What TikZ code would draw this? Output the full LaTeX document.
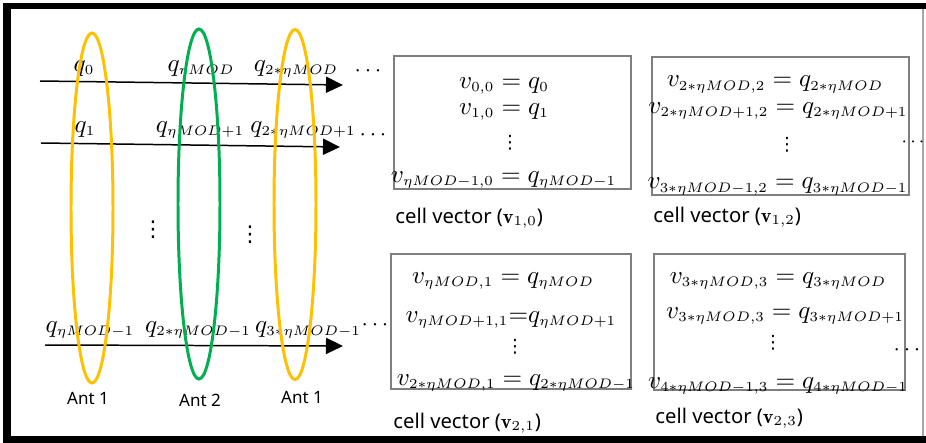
\documentclass[tikz,border=0pt]{standalone}
\usepackage{fontspec}
\newfontfamily\labfont{Noto Sans}
\newfontfamily\symfont{DejaVu Sans}
\usetikzlibrary{arrows.meta,shapes.geometric}
\DeclareMathSizes{10.95}{10.95}{6}{5}
\definecolor{antyellow}{HTML}{FFC000}
\definecolor{antgreen}{HTML}{00B050}
\definecolor{boxgray}{HTML}{7F7F7F}
\definecolor{edgegray}{HTML}{A6A6A6}
\begin{document}
\begin{tikzpicture}[x=0.43478pt,y=-0.43478pt,
  mathlab/.style={font=\fontsize{10.95}{13}\selectfont, inner sep=0pt, anchor=base},
  dotlab/.style={font=\normalsize, inner sep=0pt, anchor=base},
  vdotlab/.style={font=\symfont\fontsize{#1}{#1}\selectfont, inner sep=0pt, anchor=center},
  antlab/.style={font=\labfont\fontsize{7.4}{9}\selectfont, inner sep=0pt, anchor=center},
  celllab/.style={font=\labfont\fontsize{8.8}{10}\selectfont, inner sep=0pt, anchor=west},
  antring/.style={ellipse, draw=#1, line width=1.3pt, minimum width=18.26pt, minimum height=152.17pt, inner sep=0pt},
  cellbox/.style={draw=boxgray, line width=0.52pt, inner sep=0pt},
  flow/.style={line width=0.65pt, -{Triangle[length=7.4pt,width=7pt]}}
]
\useasboundingbox (0,0) rectangle (926,443);
% frame
\fill[black] (3,3) rectangle (926,9.3);
\fill[black] (3,3) rectangle (10.5,443);
\fill[black] (3,435.5) rectangle (926,443);
\draw[edgegray, line width=0.65pt] (923,9) -- (923,436);

% arrows
\coordinate (r1s) at (40,81);  \coordinate (r1e) at (343,85);
\coordinate (r2s) at (41,143); \coordinate (r2e) at (340,147);
\coordinate (r3s) at (45,345); \coordinate (r3e) at (343,346);
\draw[flow] (r1s) -- (r1e);
\draw[flow] (r2s) -- (r2e);
\draw[flow] (r3s) -- (r3e);

% left labels
\node[mathlab] (q0) at (84,71) {$q_0$};
\node[mathlab] (qa) at (201,71) {$q_{\eta MOD}$};
\node[mathlab] (qb) at (296,71) {$q_{2\ast\eta MOD}$};
\node[dotlab] (d1) at (368,76) {$\cdots$};
\node[mathlab] (q1) at (85,132) {$q_1$};
\node[mathlab] (qc) at (200,132) {$q_{\eta MOD+1}$};
\node[mathlab] (qd) at (303,132) {$q_{2\ast\eta MOD+1}$};
\node[dotlab] (d2) at (373,141) {$\cdots$};
\node[mathlab] (qe) at (90,332) {$q_{\eta MOD-1}$};
\node[mathlab] (qf) at (198,332) {$q_{2\ast\eta MOD-1}$};
\node[mathlab] (qg) at (308,332) {$q_{3\ast\eta MOD-1}$};
\node[dotlab] (d3) at (375,330) {$\cdots$};
\node[vdotlab=9.5] (vd1) at (153,230) {⋮};
\node[vdotlab=9.5] (vd2) at (250,235) {⋮};

% antenna rings
\node[antring=antyellow] (ant1) at (92,208) {};
\node[antring=antgreen] (ant2) at (199,204) {};
\node[antring=antyellow] (ant3) at (295,204.5) {};
\node[antlab] (l1) at (88,398) {Ant 1};
\node[antlab] (l2) at (200,400) {Ant 2};
\node[antlab] (l3) at (302,397) {Ant 1};

% cell boxes
\node[cellbox, minimum width=103.04pt, minimum height=57.83pt] (b1) at (512.5,122.5) {};
\node[cellbox, minimum width=111.74pt, minimum height=60pt] (b2) at (780.5,126) {};
\node[cellbox, minimum width=104.35pt, minimum height=58.7pt] (b3) at (511,321.5) {};
\node[cellbox, minimum width=109.13pt, minimum height=59.13pt] (b4) at (779.5,322) {};

% box 1
\node[mathlab] (b1l1) at (504,88) {$v_{0,0} = q_0$};
\node[mathlab] (b1l2) at (504,114) {$v_{1,0} = q_1$};
\node[vdotlab=8] (b1l3) at (510,143) {⋮};
\node[mathlab] (b1l4) at (503.5,182) {$v_{\eta MOD-1,0} = q_{\eta MOD-1}$};
\node[celllab] (c1) at (395,218) {cell vector ($\mathbf{v}_{1,0}$)};

% box 2
\node[mathlab] (b2l1) at (775,87) {$v_{2\ast\eta MOD,2} = q_{2\ast\eta MOD}$};
\node[mathlab] (b2l2) at (778,113) {$v_{2\ast\eta MOD+1,2} = q_{2\ast\eta MOD+1}$};
\node[vdotlab=8] (b2l3) at (787,145) {⋮};
\node[mathlab] (b2l4) at (777.5,189) {$v_{3\ast\eta MOD-1,2} = q_{3\ast\eta MOD-1}$};
\node[celllab] (c2) at (653,217) {cell vector ($\mathbf{v}_{1,2}$)};
\node[dotlab, font=\footnotesize] (d4) at (913,146) {$\cdots$};

% box 3
\node[mathlab] (b3l1) at (503,283) {$v_{\eta MOD,1} = q_{\eta MOD}$};
\node[mathlab] (b3l2) at (511,322) {$v_{\eta MOD+1,1}{=}q_{\eta MOD+1}$};
\node[vdotlab=8] (b3l3) at (515,347) {⋮};
\node[mathlab] (b3l4) at (516,385) {$v_{2\ast\eta MOD,1} = q_{2\ast\eta MOD-1}$};
\node[celllab] (c3) at (393,423) {cell vector ($\mathbf{v}_{2,1}$)};

% box 4
\node[mathlab] (b4l1) at (778,283) {$v_{3\ast\eta MOD,3} = q_{3\ast\eta MOD}$};
\node[mathlab] (b4l2) at (785,318) {$v_{3\ast\eta MOD,3} = q_{3\ast\eta MOD+1}$};
\node[vdotlab=8] (b4l3) at (773,343) {⋮};
\node[mathlab] (b4l4) at (778,388) {$v_{4\ast\eta MOD-1,3} = q_{4\ast\eta MOD-1}$};
\node[celllab] (c4) at (655,418) {cell vector ($\mathbf{v}_{2,3}$)};
\node[dotlab] (d5) at (907,355) {$\cdots$};
\end{tikzpicture}
\end{document}
